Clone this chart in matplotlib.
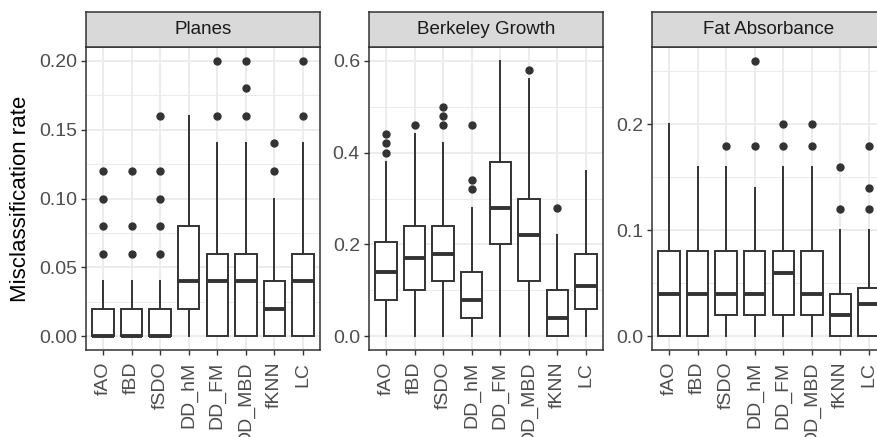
import matplotlib
matplotlib.use("Agg")
import matplotlib.pyplot as plt
from matplotlib.ticker import FixedLocator

plt.rcParams['font.family'] = ['Liberation Sans', 'DejaVu Sans']

categories = ["fAO", "fBD", "fSDO", "DD_hM", "DD_FM", "DD_MBD", "fKNN", "LC"]
panel_titles = ["Planes", "Berkeley Growth", "Fat Absorbance"]

# Planes
planes_q1 = [0.0, 0.0, 0.0, 0.02, 0.0, 0.0, 0.0, 0.0]
planes_med = [0.0, 0.0, 0.0, 0.04, 0.04, 0.04, 0.02, 0.04]
planes_q3 = [0.02, 0.02, 0.02, 0.08, 0.06, 0.06, 0.04, 0.06]
planes_lo = [0.0, 0.0, 0.0, 0.0, 0.0, 0.0, 0.0, 0.0]
planes_hi = [0.04, 0.04, 0.04, 0.16, 0.14, 0.14, 0.10, 0.14]
planes_fliers = [[0.06, 0.08, 0.10, 0.12], [0.06, 0.08, 0.12],
                 [0.06, 0.08, 0.10, 0.12, 0.16], [],
                 [0.16, 0.20], [0.16, 0.18, 0.20], [0.12, 0.14], [0.16, 0.20]]

# Berkeley Growth
berk_q1 = [0.08, 0.10, 0.12, 0.04, 0.20, 0.12, 0.0, 0.06]
berk_med = [0.14, 0.17, 0.18, 0.08, 0.28, 0.22, 0.04, 0.11]
berk_q3 = [0.205, 0.24, 0.24, 0.14, 0.38, 0.30, 0.10, 0.18]
berk_lo = [0.0, 0.0, 0.0, 0.0, 0.0, 0.0, 0.0, 0.0]
berk_hi = [0.38, 0.44, 0.42, 0.28, 0.60, 0.56, 0.22, 0.36]
berk_fliers = [[0.40, 0.42, 0.44], [0.46], [0.46, 0.48, 0.50],
               [0.32, 0.34, 0.46], [], [0.58], [0.28], []]

# Fat Absorbance
fat_q1 = [0.0, 0.0, 0.02, 0.02, 0.02, 0.02, 0.0, 0.0]
fat_med = [0.04, 0.04, 0.04, 0.04, 0.06, 0.04, 0.02, 0.0305]
fat_q3 = [0.08, 0.08, 0.08, 0.08, 0.08, 0.08, 0.04, 0.0455]
fat_lo = [0.0, 0.0, 0.0, 0.0, 0.0, 0.0, 0.0, 0.0]
fat_hi = [0.20, 0.16, 0.16, 0.14, 0.16, 0.16, 0.10, 0.10]
fat_fliers = [[], [], [0.18], [0.18, 0.26], [0.18, 0.20], [0.18, 0.20],
              [0.12, 0.16], [0.12, 0.14, 0.18]]

panels = [
    (planes_q1, planes_med, planes_q3, planes_lo, planes_hi, planes_fliers,
     (-0.01, 0.21), [0, 0.05, 0.10, 0.15, 0.20], ["0.00", "0.05", "0.10", "0.15", "0.20"],
     [0.025, 0.075, 0.125, 0.175]),
    (berk_q1, berk_med, berk_q3, berk_lo, berk_hi, berk_fliers,
     (-0.03, 0.63), [0, 0.2, 0.4, 0.6], ["0.0", "0.2", "0.4", "0.6"],
     [0.1, 0.3, 0.5]),
    (fat_q1, fat_med, fat_q3, fat_lo, fat_hi, fat_fliers,
     (-0.013, 0.273), [0, 0.1, 0.2], ["0.0", "0.1", "0.2"],
     [0.05, 0.15, 0.25]),
]

W, H = 877, 437
fig = plt.figure(figsize=(W / 100, H / 100), dpi=100)
fig.patch.set_facecolor("white")

lefts = [86, 369, 652]
pw = 234
ptop, pbot = 47, 350
stop = 12

dark = "#333333"
grid_c = "#EBEBEB"

for i, (q1, med, q3, lo, hi, fl, ylim, yt, ytl, ymin) in enumerate(panels):
    ax = fig.add_axes([lefts[i] / W, (H - pbot) / H, pw / W, (pbot - ptop) / H])
    stats = []
    for k in range(len(categories)):
        stats.append(dict(med=med[k], q1=q1[k], q3=q3[k], whislo=lo[k],
                          whishi=hi[k], fliers=fl[k], label=categories[k]))
    pos = list(range(1, len(categories) + 1))
    ax.bxp(stats, positions=pos, widths=0.75, showcaps=False, patch_artist=True,
           boxprops=dict(facecolor="white", edgecolor=dark, linewidth=1.4),
           medianprops=dict(color=dark, linewidth=2.8, solid_capstyle="butt"),
           whiskerprops=dict(color=dark, linewidth=1.4),
           flierprops=dict(marker="o", markerfacecolor=dark, markeredgecolor=dark,
                           markersize=5.0, linestyle="none"),
           zorder=3)
    ax.set_xlim(0.4, len(categories) + 0.6)
    ax.set_ylim(*ylim)
    ax.set_yticks(yt)
    ax.set_yticklabels(ytl)
    ax.yaxis.set_minor_locator(FixedLocator(ymin))
    ax.set_xticks(pos)
    ax.set_xticklabels(categories, rotation=90, ha="center", va="top")
    ax.grid(True, which="major", color=grid_c, linewidth=1.3, zorder=0)
    ax.grid(True, which="minor", axis="y", color=grid_c, linewidth=0.7, zorder=0)
    ax.set_axisbelow(True)
    for sp in ax.spines.values():
        sp.set_color(dark)
        sp.set_linewidth(1.1)
    ax.tick_params(axis="both", which="major", length=3.5, width=1.0, color=dark,
                   labelcolor="#4D4D4D", labelsize=14, pad=3)
    ax.tick_params(axis="x", which="major", pad=5)
    ax.tick_params(axis="both", which="minor", length=0)

    sax = fig.add_axes([lefts[i] / W, (H - ptop) / H, pw / W, (ptop - stop) / H])
    sax.set_facecolor("#D9D9D9")
    sax.set_xticks([])
    sax.set_yticks([])
    for sp in sax.spines.values():
        sp.set_color(dark)
        sp.set_linewidth(1.1)
    sax.text(0.5, 0.5, panel_titles[i], ha="center", va="center",
             fontsize=13.5, color="#1A1A1A", transform=sax.transAxes)

fig.text(21 / W, 1 - ((ptop + pbot) / 2) / H, "Misclassification rate",
         rotation=90, ha="center", va="center", fontsize=16, color="black")

fig.savefig("out.png", dpi=100)
